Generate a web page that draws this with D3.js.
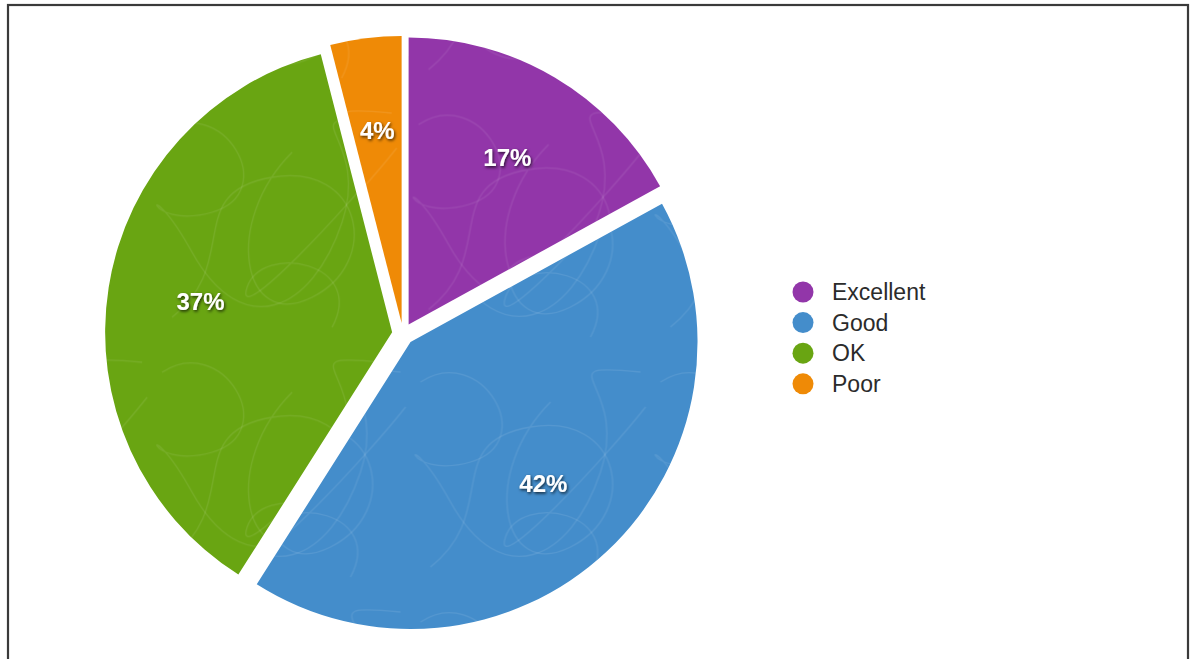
<!DOCTYPE html>
<html>
<head>
<meta charset="utf-8">
<script src="https://cdn.jsdelivr.net/npm/d3@7/dist/d3.min.js"></script>
<style>
  html, body { margin: 0; padding: 0; background: #fff; }
  svg { display: block; }
</style>
</head>
<body>
<svg id="chart" width="1191" height="659"></svg>
<script>
// Survey ratings
const categories = ["Excellent", "Good", "OK", "Poor"];
const values = [17, 42, 37, 4];
const colors = ["#9236a9", "#448dcb", "#69a512", "#ef8a06"];

const W = 1191, H = 659;
const svg = d3.select("#chart");

// outer frame
svg.append("rect")
  .attr("x", 8).attr("y", 5)
  .attr("width", 1180).attr("height", 670)
  .attr("fill", "none")
  .attr("stroke", "#3a3a3a")
  .attr("stroke-width", 2.2);

const defs = svg.append("defs");

// faint scribble texture laid over each slice
const pat = defs.append("pattern")
  .attr("id", "scribble")
  .attr("patternUnits", "userSpaceOnUse")
  .attr("width", 240).attr("height", 240);
const scribbles = [
  "M10,40 C70,0 130,100 60,120 S-10,70 40,160 S160,220 190,130 S130,20 230,30",
  "M20,225 C90,170 30,100 120,85 S230,170 160,205 S70,130 140,60",
  "M180,235 C215,170 110,150 95,195 S200,110 235,65"
];
pat.selectAll("path").data(scribbles).join("path")
  .attr("d", d => d)
  .attr("fill", "none")
  .attr("stroke", "#ffffff")
  .attr("stroke-opacity", 0.09)
  .attr("stroke-width", 1.3);

// soft dark shadow behind the percentage labels
const sh = defs.append("filter").attr("id", "lblShadow")
  .attr("x", "-30%").attr("y", "-30%").attr("width", "160%").attr("height", "160%");
sh.append("feDropShadow")
  .attr("dx", 1).attr("dy", 1.5).attr("stdDeviation", 1.4)
  .attr("flood-color", "#000").attr("flood-opacity", 0.75);

const cx = 403, cy = 334, R = 287, explode = 11, labelR = 194;

const pie = d3.pie().sort(null).value(d => d.value);
const arcs = pie(categories.map((c, i) => ({ name: c, value: values[i], color: colors[i] })));
const arc = d3.arc().innerRadius(0).outerRadius(R);
const labelArc = d3.arc().innerRadius(labelR).outerRadius(labelR);

const g = svg.append("g").attr("transform", `translate(${cx},${cy})`);

const slice = g.selectAll("g.slice").data(arcs).join("g")
  .attr("class", "slice")
  .attr("transform", d => {
    const m = (d.startAngle + d.endAngle) / 2;
    return `translate(${Math.sin(m) * explode},${-Math.cos(m) * explode})`;
  });

slice.append("path")
  .attr("d", arc)
  .attr("fill", d => d.data.color);

slice.append("path")
  .attr("d", arc)
  .attr("fill", "url(#scribble)");

slice.append("text")
  .attr("transform", d => `translate(${labelArc.centroid(d)})`)
  .attr("text-anchor", "middle")
  .attr("dominant-baseline", "central")
  .attr("font-family", "'Liberation Sans', Arial, Helvetica, sans-serif")
  .attr("font-weight", "bold")
  .attr("font-size", 24)
  .attr("fill", "#ffffff")
  .attr("filter", "url(#lblShadow)")
  .text(d => d.data.value + "%");

// legend
const legend = svg.append("g").attr("transform", "translate(803,292)");
const item = legend.selectAll("g").data(categories).join("g")
  .attr("transform", (d, i) => `translate(0,${i * 30.6})`);
item.append("circle")
  .attr("r", 10.5)
  .attr("fill", (d, i) => colors[i]);
item.append("text")
  .attr("x", 29)
  .attr("dominant-baseline", "central")
  .attr("font-family", "'Liberation Sans', Arial, Helvetica, sans-serif")
  .attr("font-size", 23)
  .attr("fill", "#2b2b2b")
  .text(d => d);
</script>
</body>
</html>
